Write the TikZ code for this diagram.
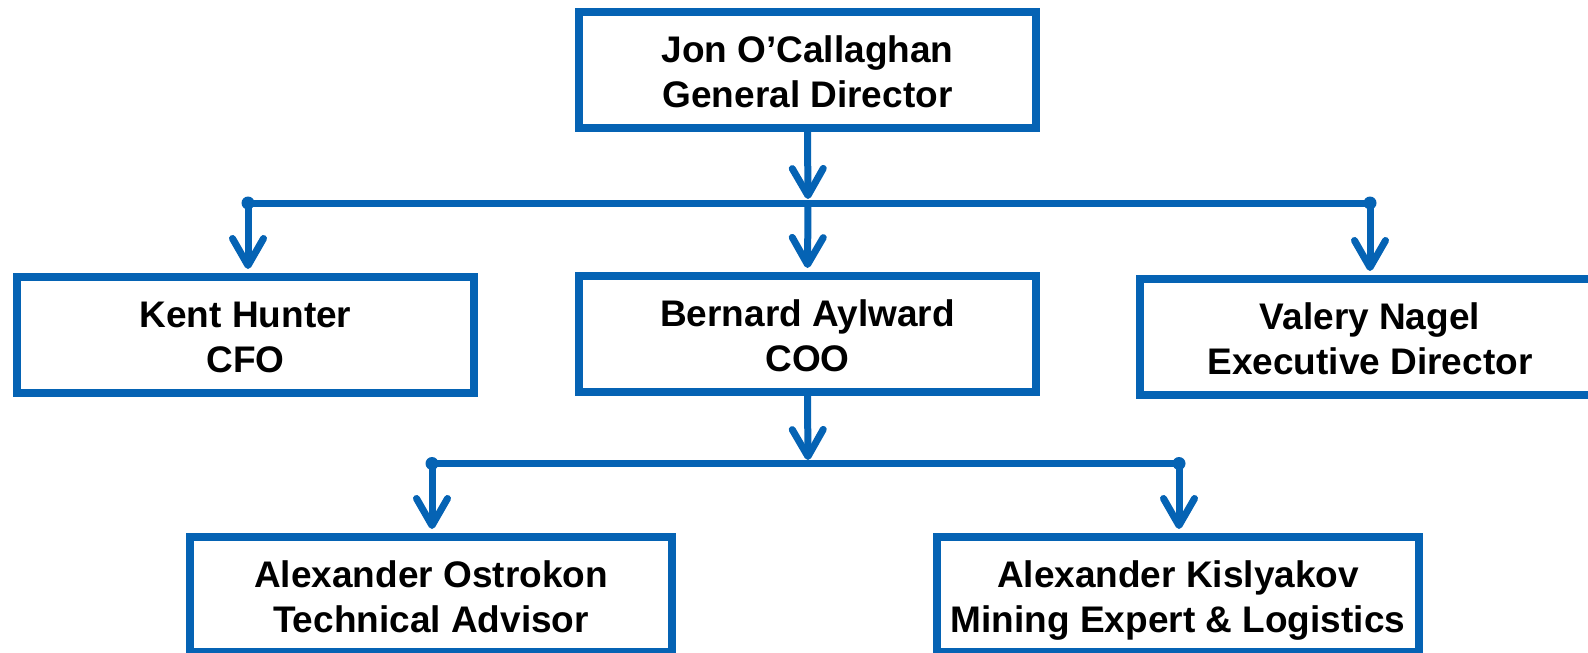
\documentclass[tikz,border=0pt]{standalone}
\usepackage{fontspec}
\setmainfont{Liberation Sans}
\usetikzlibrary{arrows.meta}
\definecolor{orgblue}{RGB}{5,99,180}
\tikzset{
  orgbox/.style={draw=orgblue, line width=8pt, fill=white, inner sep=0pt, align=center,
    text height=75pt, text depth=0pt,
    font=\bfseries\fontsize{37}{45}\selectfont},
  conn/.style={draw=orgblue, line width=7pt},
  arr/.style={conn, -{Straight Barb[length=27pt, width=31pt, line cap=round, line join=round]}},
  dot/.style={fill=orgblue}
}
\begin{document}
\begin{tikzpicture}[x=1pt,y=-1pt]
\useasboundingbox (0,0) rectangle (1588,653);
\fill[white] (0,0) rectangle (1588,653);
\begin{scope}
\clip (0,0) rectangle (1588,653);
% boxes
\node[orgbox, minimum width=457pt, minimum height=116pt] (gd) at (807.5,70) {Jon O’Callaghan\\General Director};
\node[orgbox, minimum width=457pt, minimum height=116pt] (cfo) at (245.5,335) {Kent Hunter\\CFO};
\node[orgbox, minimum width=457pt, minimum height=116pt] (coo) at (807.5,334) {Bernard Aylward\\COO};
\node[orgbox, minimum width=460pt, minimum height=116pt] (ed) at (1370,337) {Valery Nagel\\Executive Director};
\node[orgbox, minimum width=482pt, minimum height=115pt] (ta) at (431,594.5) {Alexander Ostrokon\\Technical Advisor};
\node[orgbox, minimum width=482pt, minimum height=115pt] (me) at (1178,594.5) {Alexander Kislyakov\\Mining Expert \& Logistics};
% bus coordinates
\coordinate (busL) at (248,203);
\coordinate (busR) at (1370,203);
\coordinate (busM) at (808,203);
\coordinate (lowL) at (432,463.5);
\coordinate (lowR) at (1179,463.5);
\coordinate (lowM) at (808,463.5);
% upper level
\draw[arr, shorten >=4pt] (gd.south) -- (busM);
\draw[conn] (busL) -- (busR);
\fill[dot] (busL) circle (6.5pt);
\fill[dot] (busR) circle (6.5pt);
\draw[arr, shorten >=4pt] (busL) -- (busL |- cfo.north);
\draw[arr, shorten >=4pt] (busM) -- (coo.north);
\draw[arr, shorten >=4pt] (busR) -- (busR |- ed.north);
% lower level
\draw[arr, shorten >=3.5pt] (coo.south) -- (lowM);
\draw[conn] (lowL) -- (lowR);
\fill[dot] (lowL) circle (6.5pt);
\fill[dot] (lowR) circle (6.5pt);
\draw[arr, shorten >=4pt] (lowL) -- (lowL |- ta.north);
\draw[arr, shorten >=4pt] (lowR) -- (lowR |- me.north);
\end{scope}
\end{tikzpicture}
\end{document}
